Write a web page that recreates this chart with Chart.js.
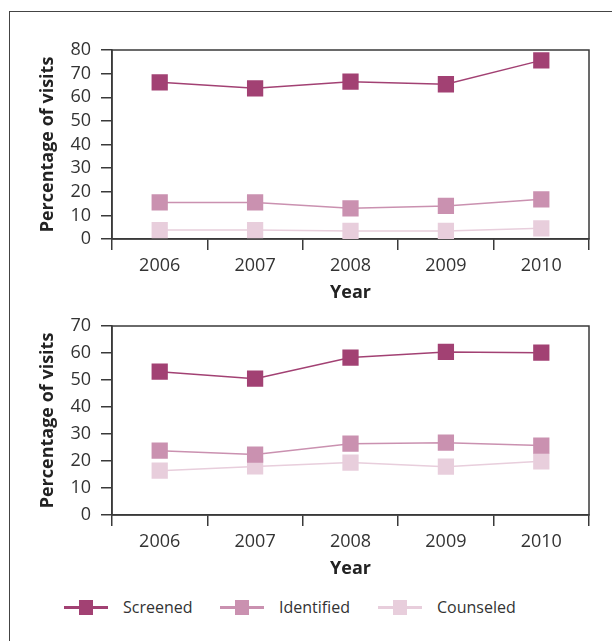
<!DOCTYPE html>
<html>
<head>
<meta charset="utf-8">
<script src="https://cdn.jsdelivr.net/npm/chart.js@4"></script>
<style>
  html, body { margin: 0; padding: 0; background: #fff; }
  body { width: 612px; height: 641px; position: relative; overflow: hidden; font-family: "Open Sans", sans-serif; }
  #frame { position: absolute; left: 9px; top: 11px; width: 640px; height: 660px; border-left: 1.5px solid #444; border-top: 1.5px solid #444; }
  .cv { position: absolute; left: 0; width: 612px; height: 310px; }
  #c1 { top: 0; }
  #c2 { top: 276px; }
  .leg { position: absolute; top: 596px; height: 22px; display: flex; align-items: center; }
  .sw { position: relative; width: 44px; height: 22px; margin-right: 15px; }
  .sw .ln { position: absolute; left: 0; right: 0; top: 9.5px; height: 3px; }
  .sw .sq { position: absolute; left: 15px; top: 3.5px; width: 14px; height: 15px; }
  .leg span { font-size: 16px; color: #333; }
</style>
</head>
<body>
<div id="frame"></div>
<canvas id="c1" class="cv" width="612" height="310"></canvas>
<canvas id="c2" class="cv" width="612" height="310"></canvas>
<div id="legend"></div>
<script>
const years = ["2006", "2007", "2008", "2009", "2010"];
const seriesNames = ["Screened", "Identified", "Counseled"];
const seriesColors = ["#A24173", "#CA91B0", "#E8CEDC"];

// Top panel
const topScreened   = [66.3, 63.8, 66.6, 65.5, 75.6];
const topIdentified = [15.5, 15.5, 13.0, 14.0, 16.8];
const topCounseled  = [3.8, 3.8, 3.4, 3.4, 4.5];
const topYMax = 80;

// Bottom panel
const botScreened   = [53.1, 50.5, 58.3, 60.4, 60.1];
const botIdentified = [23.8, 22.4, 26.4, 26.8, 25.7];
const botCounseled  = [16.4, 18.0, 19.4, 17.9, 19.9];
const botYMax = 70;

const yTitle = "Percentage of visits";
const xTitle = "Year";

const axisColor = "#3a3a3a";
const textColor = "#333";

const boxPlugin = {
  id: 'box',
  beforeDatasetsDraw(chart) {
    const a = chart.chartArea, ctx = chart.ctx;
    ctx.save();
    ctx.strokeStyle = axisColor;
    ctx.lineWidth = 1.5;
    ctx.strokeRect(a.left, a.top, a.right - a.left, a.bottom - a.top);
    ctx.restore();
  }
};

function makeChart(id, s1, s2, s3, ymax) {
  const vals = [s1, s2, s3];
  return new Chart(document.getElementById(id), {
    type: 'line',
    data: {
      labels: years,
      datasets: seriesNames.map((n, i) => ({
        label: n,
        data: vals[i],
        borderColor: seriesColors[i],
        backgroundColor: seriesColors[i],
        borderWidth: 1.5,
        pointStyle: 'rect',
        pointRadius: 11.5,
        pointHoverRadius: 11.5,
        pointBorderWidth: 0,
        tension: 0
      }))
    },
    options: {
      responsive: false,
      animation: false,
      devicePixelRatio: 1,
      layout: { padding: { top: 50, right: 23, bottom: 0, left: 0 } },
      plugins: { legend: { display: false }, tooltip: { enabled: false } },
      scales: {
        x: {
          offset: true,
          grid: { offset: true, drawOnChartArea: false, drawTicks: true, tickLength: 11, color: axisColor, lineWidth: 1.5 },
          border: { display: true, color: axisColor, width: 1.5 },
          ticks: { color: textColor, font: { family: 'Open Sans', size: 18 }, padding: 5, maxRotation: 0, autoSkip: false },
          title: { display: true, text: xTitle, color: '#222', font: { family: 'Open Sans', size: 18, weight: 'bold' }, padding: { top: 0, bottom: 6 } },
          afterFit(scale) { scale.height = 71; }
        },
        y: {
          min: 0, max: ymax,
          ticks: { stepSize: 10, color: textColor, font: { family: 'Open Sans', size: 18, lineHeight: 1 }, padding: 10, autoSkip: false },
          grid: { drawOnChartArea: false, drawTicks: true, tickLength: 11, color: axisColor, lineWidth: 1.5 },
          border: { display: true, color: axisColor, width: 1.5 },
          title: { display: true, text: yTitle, color: '#222', font: { family: 'Open Sans', size: 18, weight: 'bold' }, padding: { top: 37, bottom: 0 } },
          afterFit(scale) { scale.width = 112; }
        }
      }
    },
    plugins: [boxPlugin]
  });
}

makeChart('c1', topScreened, topIdentified, topCounseled, topYMax);
makeChart('c2', botScreened, botIdentified, botCounseled, botYMax);

// Legend
const legendLeft = [64, 220, 378];
const legend = document.getElementById('legend');
seriesNames.forEach((n, i) => {
  const d = document.createElement('div');
  d.className = 'leg';
  d.style.left = legendLeft[i] + 'px';
  d.innerHTML = '<div class="sw"><div class="ln" style="background:' + seriesColors[i] + '"></div><div class="sq" style="background:' + seriesColors[i] + '"></div></div><span>' + n + '</span>';
  legend.appendChild(d);
});
</script>
</body>
</html>
